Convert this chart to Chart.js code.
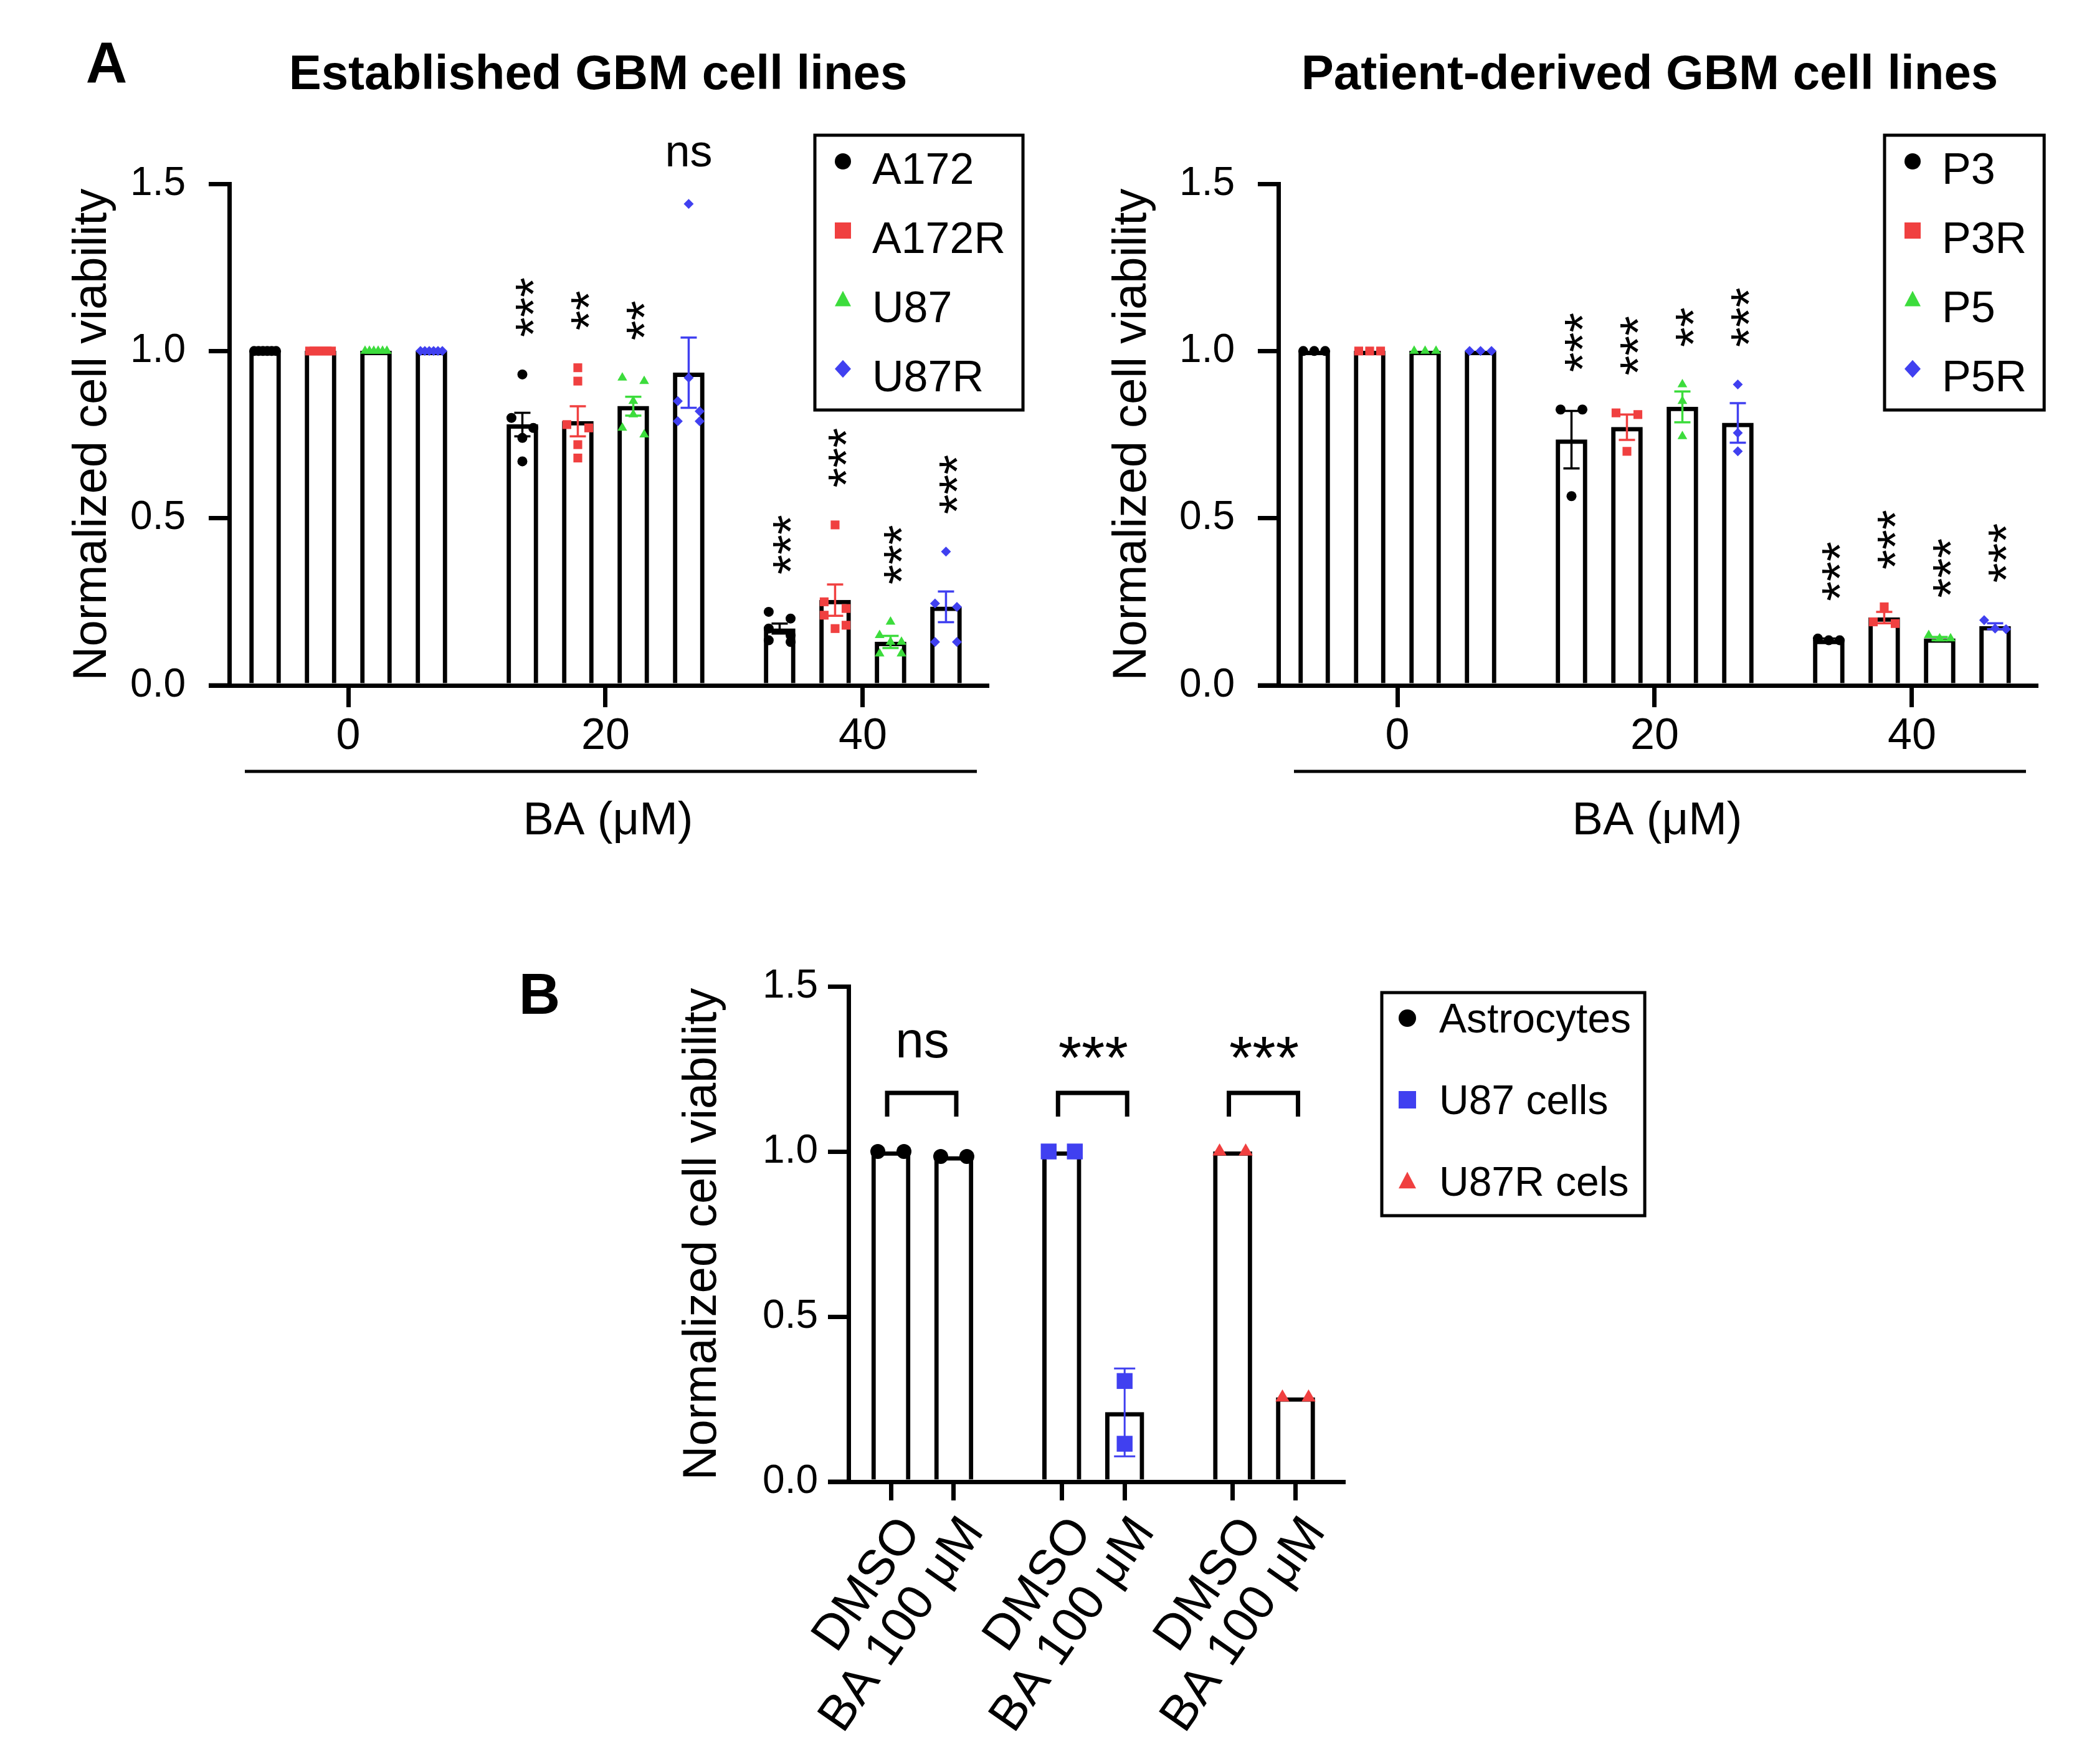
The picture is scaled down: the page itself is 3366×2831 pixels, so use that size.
<!DOCTYPE html>
<html>
<head>
<meta charset="utf-8">
<script src="https://cdn.jsdelivr.net/npm/chart.js@4.4.1/dist/chart.umd.min.js"></script>
<style>
  html, body { margin: 0; padding: 0; background: #fff; }
  #page { position: relative; width: 3366px; height: 2831px; background: #fff; overflow: hidden;
          font-family: "Liberation Sans", Arial, sans-serif; }
  canvas { position: absolute; }
  .lbl { position: absolute; transform: translate(-50%, -50%); line-height: 1; white-space: nowrap;
         font-weight: bold; color: #000; }
</style>
</head>
<body>
<div id="page">
  <div class="lbl" style="left:171px;top:100px;font-size:92px">A</div>
  <div class="lbl" style="left:960px;top:116px;font-size:78px">Established GBM cell lines</div>
  <div class="lbl" style="left:2648px;top:116px;font-size:78px">Patient-derived GBM cell lines</div>
  <div class="lbl" style="left:866px;top:1595px;font-size:92px">B</div>
  <canvas id="est" width="1700" height="1420" style="left:0;top:0"></canvas>
  <canvas id="pat" width="1682" height="1420" style="left:1684px;top:0"></canvas>
  <canvas id="norm" width="1750" height="1381" style="left:1000px;top:1450px"></canvas>
</div>
<script>
const FONT = '"Liberation Sans", Arial, sans-serif';
Chart.defaults.font.family = FONT;
Chart.defaults.color = '#000';

// ---- panel A: BA doses ----
const doses = [0, 20, 40];

// established GBM lines
const estLines = ['A172', 'A172R', 'U87', 'U87R'];
const a172Mean = [1.0, 0.78, 0.17];
const a172Err = [0, 0.035, 0.015];
const a172Pts = [[1, 1, 1, 1, 1, 1], [0.93, 0.80, 0.77, 0.74, 0.67], [0.22, 0.20, 0.17, 0.15, 0.135, 0.13]];
const a172Sig = ['', '***', '***'];
const a172rMean = [1.0, 0.79, 0.255];
const a172rErr = [0, 0.045, 0.047];
const a172rPts = [[1, 1, 1, 1, 1, 1], [0.95, 0.91, 0.78, 0.77, 0.72, 0.68], [0.48, 0.25, 0.23, 0.21, 0.18, 0.17]];
const a172rSig = ['', '**', '***'];
const u87Mean = [1.0, 0.835, 0.13];
const u87Err = [0, 0.028, 0.018];
const u87Pts = [[1, 1, 1, 1, 1, 1], [0.92, 0.91, 0.85, 0.81, 0.77, 0.75], [0.19, 0.15, 0.13, 0.13, 0.095, 0.095]];
const u87Sig = ['', '**', '***'];
const u87rMean = [1.0, 0.935, 0.235];
const u87rErr = [0, 0.105, 0.046];
const u87rPts = [[1, 1, 1, 1, 1, 1], [1.44, 0.92, 0.85, 0.82, 0.79, 0.79], [0.40, 0.245, 0.235, 0.13, 0.13]];
const u87rSig = ['', 'ns', '***'];

// patient-derived GBM lines
const patLines = ['P3', 'P3R', 'P5', 'P5R'];
const p3Mean = [1.0, 0.735, 0.136];
const p3Err = [0, 0.086, 0.004];
const p3Pts = [[1, 1, 1], [0.825, 0.825, 0.566], [0.14, 0.135, 0.135]];
const p3Sig = ['', '***', '***'];
const p3rMean = [1.0, 0.772, 0.203];
const p3rErr = [0, 0.038, 0.017];
const p3rPts = [[1, 1, 1], [0.815, 0.81, 0.70], [0.235, 0.19, 0.185]];
const p3rSig = ['', '***', '***'];
const p5Mean = [1.0, 0.833, 0.14];
const p5Err = [0, 0.046, 0.005];
const p5Pts = [[1, 1, 1], [0.90, 0.85, 0.745], [0.15, 0.14, 0.14]];
const p5Sig = ['', '**', '***'];
const p5rMean = [1.0, 0.785, 0.177];
const p5rErr = [0, 0.059, 0.009];
const p5rPts = [[1, 1, 1], [0.90, 0.755, 0.70], [0.195, 0.17, 0.168]];
const p5rSig = ['', '***', '***'];

// ---- panel B: astrocytes vs U87 ----
const cellsB = ['Astrocytes', 'U87 cells', 'U87R cels'];
const treatB = ['DMSO', 'BA 100 \u03bcM'];
const astroMean = [1.0, 0.985];
const astroErr = [0, 0];
const astroPts = [[1, 1], [0.985, 0.985]];
const u87cMean = [1.0, 0.21];
const u87cErr = [0, 0.133];
const u87cPts = [[1, 1], [0.305, 0.115]];
const u87rcMean = [1.0, 0.255];
const u87rcErr = [0, 0];
const u87rcPts = [[1, 1], [0.255, 0.255]];
const sigB = ['ns', '***', '***'];

// styles
const BLACK = '#000000', RED = '#f04040', GREEN = '#3cdc3c', BLUE = '#4040f0';
const colorsA = [BLACK, RED, GREEN, BLUE];
const shapesA = ['circle', 'rect', 'triangle', 'rectRot'];
const radiiA = [8, 10, 9, 8];
const colorsB = [BLACK, BLUE, RED];
const shapesB = ['circle', 'rect', 'triangle'];
const radiiB = [12, 18, 13];

// spread replicates that sit at (almost) the same height sideways, like a scatter-dot plot
function spread(vals, cx, width) {
  const s = vals.slice().sort((a, b) => b - a);
  const out = [];
  let i = 0;
  while (i < s.length) {
    let j = i;
    while (j + 1 < s.length && s[i] - s[j + 1] < 0.035) j++;
    const n = j - i + 1;
    for (let k = 0; k < n; k++) {
      out.push({ x: cx + (n > 1 ? (k / (n - 1) - 0.5) * width : 0), y: s[i + k] });
    }
    i = j + 1;
  }
  return out;
}

function drawMarker(ctx, style, x, y, r, color) {
  ctx.fillStyle = color;
  ctx.beginPath();
  if (style === 'circle') ctx.arc(x, y, r, 0, Math.PI * 2);
  else if (style === 'rect') ctx.rect(x - r, y - r, 2 * r, 2 * r);
  else if (style === 'triangle') {
    ctx.moveTo(x, y - r * 1.1); ctx.lineTo(x + r, y + r * 0.8); ctx.lineTo(x - r, y + r * 0.8); ctx.closePath();
  } else {
    ctx.moveTo(x, y - r * 1.1); ctx.lineTo(x + r, y); ctx.lineTo(x, y + r * 1.1); ctx.lineTo(x - r, y); ctx.closePath();
  }
  ctx.fill();
}

// error bars, drawn right after each bar dataset
function errorBars(cap, width) {
  return {
    id: 'errorBars',
    afterDatasetDraw(chart, args) {
      const ds = chart.data.datasets[args.index];
      if (!ds.errors) return;
      const ctx = chart.ctx, y = chart.scales.y;
      ctx.save();
      ctx.strokeStyle = ds.errColor;
      ctx.lineWidth = width;
      args.meta.data.forEach((bar, j) => {
        const e = ds.errors[j];
        if (!e) return;
        const m = ds.data[j].y;
        const yt = y.getPixelForValue(m + e), yb = y.getPixelForValue(m - e);
        ctx.beginPath();
        ctx.moveTo(bar.x, yt); ctx.lineTo(bar.x, yb);
        ctx.moveTo(bar.x - cap, yt); ctx.lineTo(bar.x + cap, yt);
        ctx.moveTo(bar.x - cap, yb); ctx.lineTo(bar.x + cap, yb);
        ctx.stroke();
      });
      ctx.restore();
    }
  };
}

// stars above each bar (panel A)
function starMarks(size, starSize, gap) {
  return {
    id: 'starMarks',
    afterDatasetsDraw(chart) {
      const ctx = chart.ctx, y = chart.scales.y;
      chart.data.datasets.forEach((ds, i) => {
        if (!ds.sig) return;
        const meta = chart.getDatasetMeta(i);
        ds.sig.forEach((txt, j) => {
          if (!txt) return;
          const top = Math.max(ds.data[j].y + ds.errors[j], ...ds.pts[j]);
          const x = meta.data[j].x, yb = y.getPixelForValue(top) - gap;
          ctx.save();
          ctx.fillStyle = '#000';
          ctx.textBaseline = 'alphabetic';
          if (txt === 'ns') {
            ctx.font = size + 'px ' + FONT;
            ctx.textAlign = 'center';
            ctx.fillText(txt, x, yb);
          } else {
            ctx.font = starSize + 'px ' + FONT;
            ctx.translate(x, yb);
            ctx.rotate(-Math.PI / 2);
            ctx.textAlign = 'left';
            ctx.fillText(txt, 0, starSize * 0.56);
          }
          ctx.restore();
        });
      });
    }
  };
}

// brackets with labels (panel B)
function pairMarks(labels, size, starSize) {
  return {
    id: 'pairMarks',
    afterDatasetsDraw(chart) {
      const ctx = chart.ctx, y = chart.scales.y;
      chart.data.datasets.forEach((ds, i) => {
        if (ds.group === undefined) return;
        const meta = chart.getDatasetMeta(i);
        const top = Math.max(...ds.data.map((d, j) => Math.max(d.y + ds.errors[j], ...ds.pts[j])));
        const yt = y.getPixelForValue(top) - 94;
        const x1 = meta.data[0].x, x2 = meta.data[1].x;
        ctx.save();
        ctx.strokeStyle = '#000';
        ctx.lineWidth = 7;
        ctx.beginPath();
        ctx.moveTo(x1 - 6, yt + 38); ctx.lineTo(x1 - 6, yt); ctx.lineTo(x2 + 4, yt); ctx.lineTo(x2 + 4, yt + 38);
        ctx.stroke();
        const txt = labels[ds.group];
        const isNs = txt === 'ns';
        const f = isNs ? size : starSize;
        const cy = yt - 78;
        ctx.fillStyle = '#000';
        ctx.font = f + 'px ' + FONT;
        ctx.textAlign = 'center';
        ctx.textBaseline = 'alphabetic';
        ctx.fillText(txt, (x1 + x2) / 2, cy + (isNs ? 0.26 : 0.56) * f);
        ctx.restore();
      });
    }
  };
}

// boxed legend
function boxLegend(cfg) {
  return {
    id: 'boxLegend',
    afterDraw(chart) {
      const ctx = chart.ctx;
      ctx.save();
      ctx.font = cfg.size + 'px ' + FONT;
      const tw = Math.max(...cfg.labels.map(t => ctx.measureText(t).width));
      const w = cfg.textDx + tw + cfg.padRight;
      ctx.lineWidth = 5;
      ctx.strokeStyle = '#000';
      ctx.strokeRect(cfg.x, cfg.y, w, cfg.h);
      cfg.labels.forEach((t, k) => {
        const base = cfg.y + cfg.first + k * cfg.row;
        drawMarker(ctx, cfg.shapes[k], cfg.x + cfg.markerDx, base + cfg.markerDy, cfg.r, cfg.colors[k]);
        ctx.fillStyle = '#000';
        ctx.textAlign = 'left';
        ctx.textBaseline = 'alphabetic';
        ctx.fillText(t, cfg.x + cfg.textDx, base);
      });
      ctx.restore();
    }
  };
}

// axis corner piece and the line under the dose ticks
function axisExtras(tick, underline) {
  return {
    id: 'axisExtras',
    afterDraw(chart) {
      const ctx = chart.ctx, a = chart.chartArea;
      ctx.save();
      ctx.strokeStyle = '#000';
      ctx.lineWidth = 7;
      ctx.beginPath();
      ctx.moveTo(a.left - tick, a.bottom); ctx.lineTo(a.left + 2, a.bottom);
      ctx.stroke();
      if (underline) {
        ctx.lineWidth = 5;
        ctx.beginPath();
        ctx.moveTo(a.left + 25, a.bottom + 138); ctx.lineTo(a.right - 16, a.bottom + 138);
        ctx.stroke();
      }
      ctx.restore();
    }
  };
}

function yAxis(width, titlePad, tickPad) {
  return {
    type: 'linear', min: 0, max: 1.5,
    ticks: { stepSize: 0.5, callback: v => v.toFixed(1), font: { size: 64 }, color: '#000', padding: tickPad },
    grid: { drawOnChartArea: false, tickLength: 33, tickWidth: 7, tickColor: '#000', color: '#000', lineWidth: 7 },
    border: { display: true, color: '#000', width: 7 },
    title: { display: true, text: 'Normalized cell viability', font: { size: 76 }, color: '#000',
             padding: { top: titlePad, bottom: 0 } },
    afterFit: s => { s.width = width; }
  };
}

function doseChart(id, names, means, errs, pts, sigs, rightPad, titlePad, legendX) {
  const barOff = [-6.465, -2.155, 2.155, 6.465];
  const datasets = [];
  names.forEach((name, i) => {
    datasets.push({
      type: 'bar', label: name, order: 2,
      data: doses.map((d, j) => ({ x: d + barOff[i], y: means[i][j] })),
      errors: errs[i], pts: pts[i], sig: sigs[i], errColor: colorsA[i],
      backgroundColor: '#fff', borderColor: '#000', borderWidth: 7,
      barThickness: 50, grouped: false
    });
    datasets.push({
      type: 'scatter', label: name + ' points', order: 0, clip: false,
      data: doses.flatMap((d, j) => spread(pts[i][j], d + barOff[i], 1.7)),
      pointStyle: shapesA[i], pointRadius: radiiA[i], pointBorderWidth: 0,
      backgroundColor: colorsA[i], borderColor: colorsA[i]
    });
  });
  return new Chart(document.getElementById(id), {
    type: 'bar',
    data: { datasets },
    options: {
      responsive: false, animation: false, events: [],
      layout: { padding: { left: 0, top: 295, right: rightPad, bottom: 0 } },
      plugins: { legend: { display: false }, tooltip: { enabled: false } },
      scales: {
        x: {
          type: 'linear', min: -9.25, max: 49.64, offset: false,
          afterBuildTicks: s => { s.ticks = doses.map(v => ({ value: v })); },
          ticks: { callback: v => String(v), font: { size: 70 }, color: '#000', padding: 6,
                   maxRotation: 0, autoSkip: false },
          grid: { offset: false, drawOnChartArea: false, tickLength: 35, tickWidth: 7, tickColor: '#000', color: '#000', lineWidth: 7 },
          border: { display: true, color: '#000', width: 7 },
          title: { display: true, text: 'BA (\u03bcM)', font: { size: 74 }, color: '#000', padding: { top: 0, bottom: 57 } },
          afterFit: s => { s.height = 320; }
        },
        y: yAxis(368, titlePad, 37)
      }
    },
    plugins: [
      errorBars(13, 3.5),
      starMarks(72, 82, 60),
      boxLegend({ labels: names, shapes: shapesA, colors: colorsA, x: legendX, y: 217, h: 441,
                  size: 70, first: 78, row: 111, markerDx: 45, markerDy: -36, textDx: 92, padRight: 28, r: 13 }),
      axisExtras(33, true)
    ]
  });
}

doseChart('est', estLines,
  [a172Mean, a172rMean, u87Mean, u87rMean],
  [a172Err, a172rErr, u87Err, u87rErr],
  [a172Pts, a172rPts, u87Pts, u87rPts],
  [a172Sig, a172rSig, u87Sig, u87rSig],
  116, 103, 1308);

doseChart('pat', patLines,
  [p3Mean, p3rMean, p5Mean, p5rMean],
  [p3Err, p3rErr, p5Err, p5rErr],
  [p3Pts, p3rPts, p5Pts, p5rPts],
  [p3Sig, p3rSig, p5Sig, p5rSig],
  98, 88, 1341);

// ---- panel B ----
(function () {
  const means = [astroMean, u87cMean, u87rcMean];
  const errs = [astroErr, u87cErr, u87rcErr];
  const pts = [astroPts, u87cPts, u87rcPts];
  const off = [-0.184, 0.184];
  const datasets = [];
  cellsB.forEach((name, g) => {
    datasets.push({
      type: 'bar', label: name, order: 2, group: g,
      data: off.map((o, j) => ({ x: g + o, y: means[g][j] })),
      errors: errs[g], pts: pts[g], errColor: colorsB[g],
      backgroundColor: '#fff', borderColor: '#000', borderWidth: 7,
      barThickness: 62, grouped: false
    });
    datasets.push({
      type: 'scatter', label: name + ' points', order: 0, clip: false,
      data: off.flatMap((o, j) => spread(pts[g][j], g + o, 0.153)),
      pointStyle: shapesB[g], pointRadius: radiiB[g], pointBorderWidth: 0,
      backgroundColor: colorsB[g], borderColor: colorsB[g]
    });
  });
  new Chart(document.getElementById('norm'), {
    type: 'bar',
    data: { datasets },
    options: {
      responsive: false, animation: false, events: [],
      layout: { padding: { left: 0, top: 133, right: 594, bottom: 0 } },
      plugins: { legend: { display: false }, tooltip: { enabled: false } },
      scales: {
        x: {
          type: 'linear', min: -0.432, max: 2.463, offset: false,
          afterBuildTicks: s => { s.ticks = cellsB.flatMap((c, g) => off.map(o => ({ value: g + o }))); },
          ticks: { callback: (v, i) => treatB[i % 2], font: { size: 80 }, color: '#000', padding: 10,
                   labelOffset: 32, minRotation: 55, maxRotation: 55, autoSkip: false },
          grid: { offset: false, drawOnChartArea: false, tickLength: 30, tickWidth: 7, tickColor: '#000', color: '#000', lineWidth: 7 },
          border: { display: true, color: '#000', width: 7 },
          afterFit: s => { s.height = 453; }
        },
        y: yAxis(362, 82, 16)
      }
    },
    plugins: [
      errorBars(17, 3),
      pairMarks(sigB, 82, 96),
      boxLegend({ labels: cellsB, shapes: shapesB, colors: colorsB, x: 1218, y: 143, h: 358,
                  size: 66, first: 64, row: 131, markerDx: 41, markerDy: -23, textDx: 92, padRight: 22, r: 14 }),
      axisExtras(33, false)
    ]
  });
})();
</script>
</body>
</html>
